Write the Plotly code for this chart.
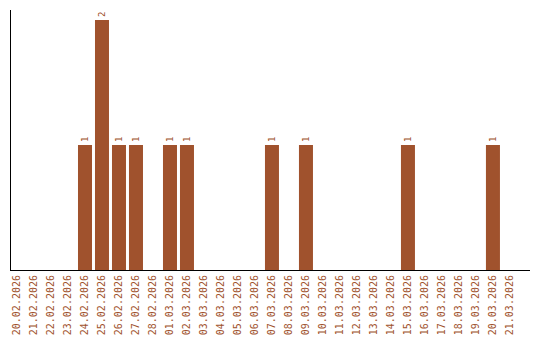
import plotly.graph_objects as go

dates = ["20.02.2026", "21.02.2026", "22.02.2026", "23.02.2026", "24.02.2026", "25.02.2026",
         "26.02.2026", "27.02.2026", "28.02.2026", "01.03.2026", "02.03.2026", "03.03.2026",
         "04.03.2026", "05.03.2026", "06.03.2026", "07.03.2026", "08.03.2026", "09.03.2026",
         "10.03.2026", "11.03.2026", "12.03.2026", "13.03.2026", "14.03.2026", "15.03.2026",
         "16.03.2026", "17.03.2026", "18.03.2026", "19.03.2026", "20.03.2026", "21.03.2026"]
counts = [0, 0, 0, 0, 1, 2, 1, 1, 0, 1, 1, 0, 0, 0, 0, 1, 0, 1, 0, 0, 0, 0, 0, 1, 0, 0, 0, 0, 1, 0]

labels = [str(v) if v > 0 else "" for v in counts]

color = "#A0522D"

fig = go.Figure(go.Bar(
    x=dates, y=counts, marker_color=color, marker_line_width=0,
    text=labels, textposition="outside", textangle=-90, cliponaxis=False,
    textfont=dict(family="DejaVu Sans Mono", size=9, color=color),
))

fig.update_layout(
    width=540, height=340,
    margin=dict(l=11, r=10, t=10, b=70),
    paper_bgcolor="white", plot_bgcolor="white",
    bargap=0.176, showlegend=False,
    xaxis=dict(type="category", range=[-0.353, 30.18], tickangle=-90, showgrid=False, ticks="",
               showline=True, linecolor="black", linewidth=1, automargin=False,
               tickfont=dict(family="DejaVu Sans Mono", size=10, color=color)),
    yaxis=dict(range=[0, 2.08], showgrid=False, zeroline=False, showticklabels=False,
               ticks="", showline=True, linecolor="black", linewidth=1, automargin=False),
)

fig.write_html("out.html")
